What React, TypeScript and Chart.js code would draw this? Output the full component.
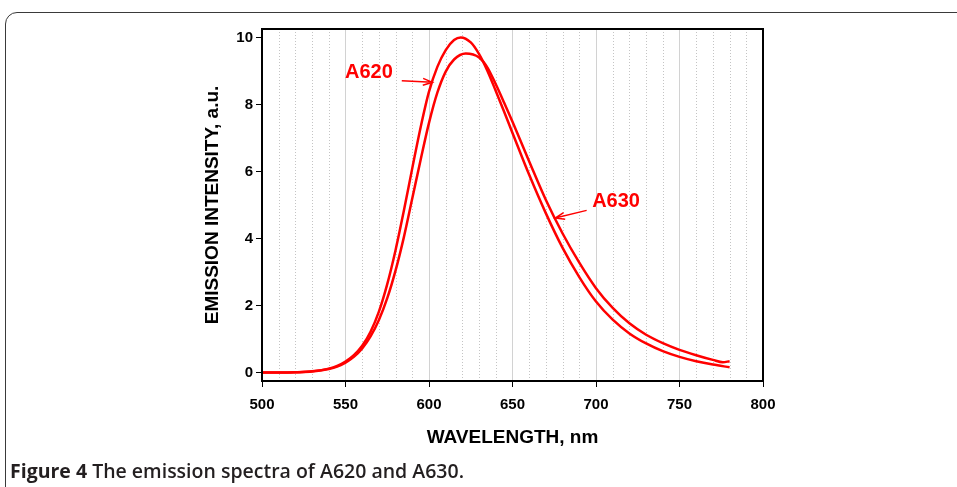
import React, { useEffect, useRef } from 'react';
import { Chart, registerables } from 'chart.js';

Chart.register(...registerables);

// ---- data ----
const a620Wavelength = [500, 510, 520, 530, 540, 545, 550, 555, 560, 565, 570, 575, 580, 585, 590, 595, 600, 605, 610, 615, 619, 625, 630, 635, 640, 645, 650, 660, 670, 680, 690, 700, 710, 720, 730, 740, 750, 760, 770, 780];
const a620Intensity = [0.0, 0.0, 0.01, 0.04, 0.12, 0.2, 0.33, 0.52, 0.8, 1.22, 1.82, 2.64, 3.66, 4.84, 6.1, 7.32, 8.38, 9.12, 9.62, 9.92, 10.0, 9.85, 9.5, 9.0, 8.4, 7.78, 7.15, 5.9, 4.75, 3.72, 2.85, 2.12, 1.58, 1.17, 0.87, 0.64, 0.47, 0.34, 0.24, 0.16];

const a630Wavelength = [500, 510, 520, 530, 540, 545, 550, 555, 560, 565, 570, 575, 580, 585, 590, 595, 600, 605, 610, 615, 622, 630, 635, 640, 645, 650, 660, 670, 680, 690, 700, 710, 720, 730, 740, 750, 760, 770, 776, 780];
const a630Intensity = [0.0, 0.0, 0.01, 0.03, 0.11, 0.18, 0.3, 0.47, 0.72, 1.08, 1.57, 2.22, 3.05, 4.05, 5.2, 6.35, 7.45, 8.35, 8.98, 9.34, 9.52, 9.4, 9.1, 8.6, 8.05, 7.48, 6.3, 5.15, 4.15, 3.28, 2.52, 1.93, 1.47, 1.13, 0.88, 0.68, 0.52, 0.38, 0.31, 0.34];

const seriesNames = ['A620', 'A630'];
const xTickValues = [500, 550, 600, 650, 700, 750, 800];
const xTickLabels = ['500', '550', '600', '650', '700', '750', '800'];
const yTickValues = [0, 2, 4, 6, 8, 10];
const yTickLabels = ['0', '2', '4', '6', '8', '10'];
const minorGridValues = [510, 520, 530, 540, 560, 570, 580, 590, 610, 620, 630, 640, 660, 670, 680, 690, 710, 720, 730, 740, 760, 770, 780, 790];

const xAxisTitle = 'WAVELENGTH, nm';
const yAxisTitle = 'EMISSION INTENSITY, a.u.';
const captionBold = 'Figure 4';
const captionRest = ' The emission spectra of A620 and A630.';

// label notes: text centre and arrow start/tip, in data units
const noteText = ['A620', 'A630'];
const noteTextX = [564, 712];
const noteTextY = [8.94, 5.11];
const noteArrowFromX = [583.7, 694.4];
const noteArrowFromY = [8.71, 4.84];
const noteArrowToX = [602, 675.6];
const noteArrowToY = [8.66, 4.61];

const FONT = '"Liberation Sans", Arial, Helvetica, sans-serif';
const RED = '#ff0000';

const decorPlugin = {
  id: 'decor',
  beforeDatasetsDraw(chart: any) {
    const { ctx, chartArea: a, scales } = chart;
    const x = scales.x;
    ctx.save();
    ctx.strokeStyle = '#c4c4c4';
    ctx.lineWidth = 1;
    ctx.setLineDash([1, 2]);
    for (const v of minorGridValues) {
      const px = Math.round(x.getPixelForValue(v)) + 0.5;
      ctx.beginPath();
      ctx.moveTo(px, a.top);
      ctx.lineTo(px, a.bottom);
      ctx.stroke();
    }
    ctx.restore();
  },
  afterDatasetsDraw(chart: any) {
    const { ctx, chartArea: a, scales } = chart;
    const x = scales.x;
    const y = scales.y;
    ctx.save();
    // frame
    ctx.strokeStyle = '#000';
    ctx.lineWidth = 2;
    ctx.strokeRect(a.left, a.top, a.right - a.left, a.bottom - a.top);
    // notes
    for (let i = 0; i < noteText.length; i++) {
      ctx.fillStyle = RED;
      ctx.font = `bold 20px ${FONT}`;
      ctx.textAlign = 'center';
      ctx.textBaseline = 'middle';
      ctx.fillText(noteText[i], x.getPixelForValue(noteTextX[i]), y.getPixelForValue(noteTextY[i]));
      const x0 = x.getPixelForValue(noteArrowFromX[i]);
      const y0 = y.getPixelForValue(noteArrowFromY[i]);
      const x1 = x.getPixelForValue(noteArrowToX[i]);
      const y1 = y.getPixelForValue(noteArrowToY[i]);
      const th = Math.atan2(y1 - y0, x1 - x0);
      ctx.strokeStyle = RED;
      ctx.lineWidth = 1.5;
      ctx.beginPath();
      ctx.moveTo(x0, y0);
      ctx.lineTo(x1, y1);
      const L = 10;
      ctx.moveTo(x1 + L * Math.cos(th + Math.PI - 0.35), y1 + L * Math.sin(th + Math.PI - 0.35));
      ctx.lineTo(x1, y1);
      ctx.lineTo(x1 + L * Math.cos(th + Math.PI + 0.35), y1 + L * Math.sin(th + Math.PI + 0.35));
      ctx.stroke();
    }
    ctx.restore();
  },
};

export default function App() {
  const ref = useRef<HTMLCanvasElement | null>(null);

  useEffect(() => {
    document.body.style.margin = '0';
    const canvas = ref.current;
    if (!canvas) return;
    const tickFont = { family: FONT, size: 15, weight: 'bold' as const };
    const titleFont = { family: FONT, size: 19, weight: 'bold' as const };
    const chart = new Chart(canvas, {
      type: 'line',
      data: {
        datasets: [
          {
            label: seriesNames[0],
            data: a620Wavelength.map((w, i) => ({ x: w, y: a620Intensity[i] })),
            borderColor: RED,
            borderWidth: 2.5,
            pointRadius: 0,
            fill: false,
            cubicInterpolationMode: 'monotone',
          },
          {
            label: seriesNames[1],
            data: a630Wavelength.map((w, i) => ({ x: w, y: a630Intensity[i] })),
            borderColor: RED,
            borderWidth: 2.5,
            pointRadius: 0,
            fill: false,
            cubicInterpolationMode: 'monotone',
          },
        ],
      },
      options: {
        responsive: false,
        animation: false,
        events: [],
        layout: { padding: { left: 0, top: 29, right: 194, bottom: 0 } },
        plugins: { legend: { display: false }, tooltip: { enabled: false } },
        scales: {
          x: {
            type: 'linear',
            min: 500,
            max: 800,
            afterBuildTicks: (s: any) => {
              s.ticks = xTickValues.map((v) => ({ value: v }));
            },
            afterFit: (s: any) => {
              s.height = 106;
            },
            ticks: {
              color: '#000',
              font: tickFont,
              padding: 9,
              maxRotation: 0,
              callback: (v: any) => xTickLabels[xTickValues.indexOf(Number(v))],
            },
            grid: {
              color: '#d2d2d2',
              lineWidth: 1,
              tickColor: '#000',
              tickLength: 6,
              drawTicks: true,
            },
            border: { display: false },
            title: {
              display: true,
              text: xAxisTitle,
              color: '#000',
              font: titleFont,
              padding: { top: 0, bottom: 38 },
            },
          },
          y: {
            type: 'linear',
            min: -0.25,
            max: 10.25,
            afterBuildTicks: (s: any) => {
              s.ticks = yTickValues.map((v) => ({ value: v }));
            },
            afterFit: (s: any) => {
              s.width = 262;
            },
            ticks: {
              color: '#000',
              font: tickFont,
              padding: 3,
              callback: (v: any) => yTickLabels[yTickValues.indexOf(Number(v))],
            },
            grid: {
              drawOnChartArea: false,
              drawTicks: true,
              tickLength: 6,
              tickColor: '#000',
              color: '#000',
            },
            border: { display: false },
            title: {
              display: true,
              text: yAxisTitle,
              color: '#000',
              font: titleFont,
              padding: { top: 201, bottom: 0 },
            },
          },
        },
      },
      plugins: [decorPlugin],
    } as any);
    return () => chart.destroy();
  }, []);

  return (
    <div style={{ position: 'fixed', left: 0, top: 0, width: 957, height: 487, overflow: 'hidden', background: '#fff' }}>
      <div
        style={{
          position: 'absolute',
          left: 5,
          top: 12,
          width: 1000,
          height: 520,
          border: '1.5px solid #3a3a3a',
          borderRadius: 12,
          boxSizing: 'border-box',
        }}
      />
      <canvas ref={ref} width={957} height={487} style={{ position: 'absolute', left: 0, top: 0, width: 957, height: 487 }} />
      <div
        style={{
          position: 'absolute',
          left: 10,
          top: 459,
          fontFamily: '"Open Sans", "Noto Sans", sans-serif',
          fontSize: 19.5,
          lineHeight: '24px',
          color: '#231f20',
          whiteSpace: 'nowrap',
        }}
      >
        <span style={{ fontWeight: 700 }}>{captionBold}</span>
        <span style={{ fontWeight: 600 }}>{captionRest}</span>
      </div>
    </div>
  );
}
